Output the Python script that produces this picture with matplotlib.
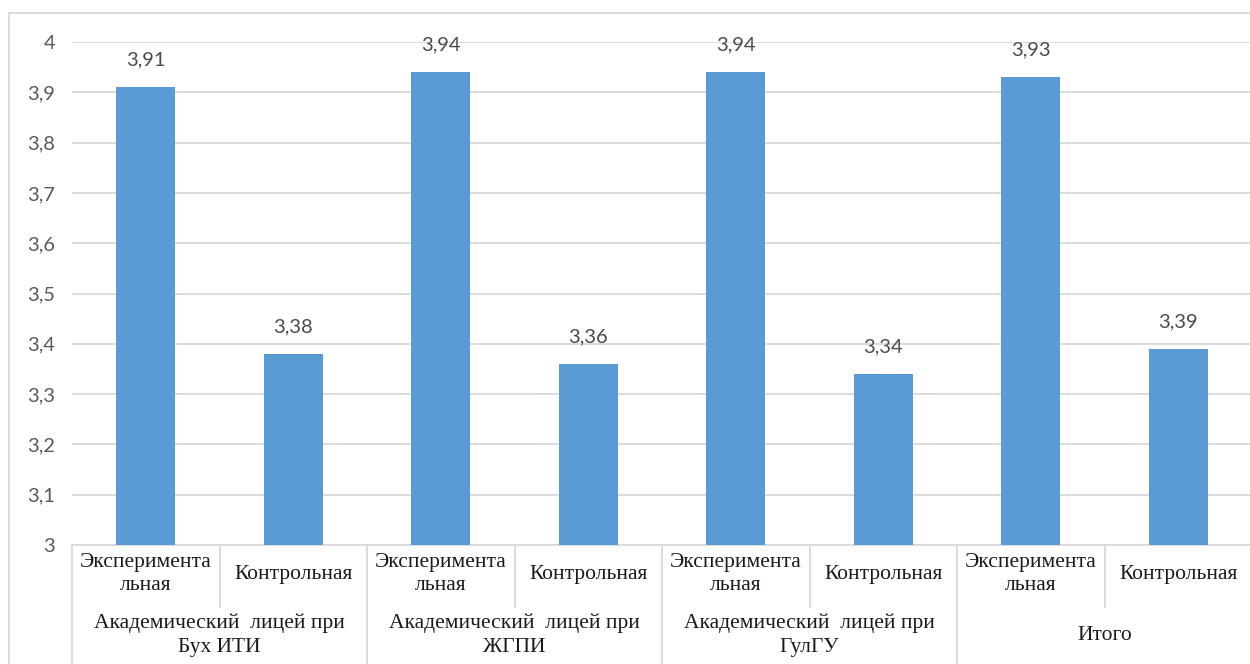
import matplotlib
matplotlib.use("Agg")
import matplotlib.pyplot as plt
from matplotlib.patches import Rectangle
from matplotlib.lines import Line2D

# Data
groups = ["Академический  лицей при\nБух ИТИ",
          "Академический  лицей при\nЖГПИ",
          "Академический  лицей при\nГулГУ",
          "Итого"]
subgroups = ["Эксперимента\nльная", "Контрольная"]
values = [3.91, 3.38, 3.94, 3.36, 3.94, 3.34, 3.93, 3.39]
y_ticks = [3.0, 3.1, 3.2, 3.3, 3.4, 3.5, 3.6, 3.7, 3.8, 3.9, 4.0]

plt.rcParams["font.family"] = ["Liberation Serif", "DejaVu Serif"]
num_font = ["Lato", "DejaVu Sans"]

W, H = 1250, 664
fig = plt.figure(figsize=(W / 100, H / 100), dpi=100)

# outer chart frame
fig.add_artist(Rectangle((9 / W, -0.1), 1.1, (H - 13) / H + 0.1,
                         transform=fig.transFigure, fill=False,
                         edgecolor="#d9d9d9", linewidth=1.3))

ax_left, ax_right, ax_top, ax_bottom = 72, 1252, 42, 545
ax = fig.add_axes([ax_left / W, (H - ax_bottom) / H,
                   (ax_right - ax_left) / W, (ax_bottom - ax_top) / H])

n = len(values)
xs = list(range(n))
ax.bar(xs, [v - 3 for v in values], bottom=3, width=0.4,
       color="#5b9bd5", zorder=3)
ax.set_xlim(-0.5, n - 0.5)
ax.set_ylim(3, 4)

for x, v in zip(xs, values):
    ax.annotate(f"{v:.2f}".replace(".", ","), (x, v),
                xytext=(0, 19.5), textcoords="offset points",
                ha="center", va="center", fontsize=14.5, color="#4a4a4a",
                family=num_font)

ax.set_yticks(y_ticks)
ax.set_yticklabels([f"{t:g}".replace(".", ",") for t in y_ticks],
                   fontsize=14.5, color="#595959", family=num_font)
ax.tick_params(axis="y", length=0, pad=12)
ax.set_xticks([])
ax.yaxis.grid(True, color="#d9d9d9", linewidth=1.3, zorder=0)
for s in ax.spines.values():
    s.set_visible(False)

# category axis (two levels)
px = (ax_bottom - ax_top)  # pixels per axes-fraction unit
def yfrac(py):
    return (ax_bottom - py) / px

trans = ax.get_xaxis_transform()
line_kw = dict(color="#d9d9d9", linewidth=1.3, transform=trans, clip_on=False)
ax.add_line(Line2D([-0.5, n - 0.5], [0, 0], **line_kw))
for i in range(n + 1):
    xb = i - 0.5
    if i % 2 == 0:
        ax.add_line(Line2D([xb, xb], [0, yfrac(H + 5)], **line_kw))
    else:
        ax.add_line(Line2D([xb, xb], [0, yfrac(607)], **line_kw))

for i, x in enumerate(xs):
    ax.text(x, yfrac(574), subgroups[i % 2], transform=trans,
            ha="center", va="center", fontsize=15.5, color="#1a1a1a",
            linespacing=1.3)
for g, name in enumerate(groups):
    ax.text(2 * g + 0.5, yfrac(635), name, transform=trans,
            ha="center", va="center", fontsize=15.5, color="#1a1a1a",
            linespacing=1.35)

fig.savefig("out.png", dpi=100)
